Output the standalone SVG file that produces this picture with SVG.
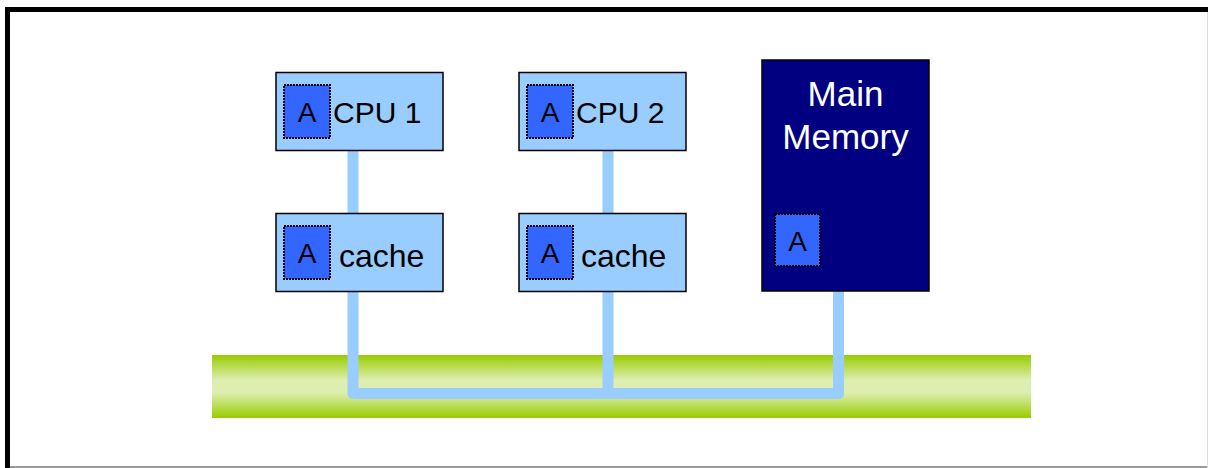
<svg xmlns="http://www.w3.org/2000/svg" width="1208" height="468" viewBox="0 0 1208 468">
  <defs>
    <linearGradient id="busFill" x1="0" y1="0" x2="0" y2="1">
      <stop offset="0" stop-color="#99CC00"/>
      <stop offset="0.4" stop-color="#DDEEB0"/>
      <stop offset="0.6" stop-color="#DDEEB0"/>
      <stop offset="1" stop-color="#99CC00"/>
    </linearGradient>
  </defs>
  <style>
    .unit { fill: #99CCFF; stroke: #000; stroke-width: 1.5; }
    .mem { fill: #000080; stroke: #000; stroke-width: 1.5; }
    .tag { fill: #3366FF; stroke: #000; stroke-width: 2; stroke-dasharray: 2 1; }
    .lbl { font-family: "Liberation Sans", Arial, sans-serif; font-size: 30px; fill: #000; }
    .cache { font-size: 32px; }
    .tagtxt { font-family: "Liberation Sans", Arial, sans-serif; font-size: 28px; fill: #000; text-anchor: middle; }
    .memtxt { font-family: "Liberation Sans", Arial, sans-serif; font-size: 35px; fill: #fff; text-anchor: middle; }
    .wire { fill: none; stroke: #99CCFF; stroke-width: 11; stroke-linejoin: round; stroke-linecap: butt; }
  </style>

  <!-- frame -->
  <rect x="0" y="0" width="1208" height="468" fill="#fff"/>
  <line x1="7.5" y1="9.5" x2="1208" y2="9.5" stroke="#000" stroke-width="5"/>
  <line x1="7.5" y1="7" x2="7.5" y2="468" stroke="#000" stroke-width="5"/>
  <line x1="10" y1="467" x2="1208" y2="467" stroke="#777" stroke-width="1.5"/>
  <line x1="1207.5" y1="12" x2="1207.5" y2="468" stroke="#ddd" stroke-width="1"/>

  <!-- system bus -->
  <rect id="bus" x="212" y="355" width="819" height="63" fill="url(#busFill)"/>

  <!-- connectors -->
  <g id="connectors">
    <path class="wire" d="M353 150 V213"/>
    <path class="wire" d="M608 150 V213"/>
    <path class="wire" d="M353 291 V393.5 H838.5 V291"/>
    <path class="wire" d="M608 291 V393.5"/>
  </g>

  <g id="cpu1">
    <rect class="unit" x="276" y="72.5" width="167" height="78"/>
    <rect class="tag" x="284" y="85" width="46" height="53"/>
    <text class="tagtxt" x="307" y="122">A</text>
    <text class="lbl" x="333" y="123">CPU 1</text>
  </g>

  <g id="cache1">
    <rect class="unit" x="276" y="213.5" width="167" height="78"/>
    <rect class="tag" x="284" y="226" width="46" height="53"/>
    <text class="tagtxt" x="307" y="263">A</text>
    <text class="lbl cache" x="339" y="267">cache</text>
  </g>

  <g id="cpu2">
    <rect class="unit" x="519" y="72.5" width="167" height="78"/>
    <rect class="tag" x="527" y="85" width="46" height="53"/>
    <text class="tagtxt" x="550" y="122">A</text>
    <text class="lbl" x="576" y="123">CPU 2</text>
  </g>

  <g id="cache2">
    <rect class="unit" x="519" y="213.5" width="167" height="78"/>
    <rect class="tag" x="527" y="226" width="46" height="53"/>
    <text class="tagtxt" x="550" y="263">A</text>
    <text class="lbl cache" x="581" y="267">cache</text>
  </g>

  <g id="memory">
    <rect class="mem" x="762" y="60" width="167" height="231"/>
    <text class="memtxt" x="845.5" y="106">Main</text>
    <text class="memtxt" x="845.5" y="149">Memory</text>
    <rect class="tag" x="775" y="214" width="45" height="52"/>
    <text class="tagtxt" x="797.5" y="251">A</text>
  </g>
</svg>
